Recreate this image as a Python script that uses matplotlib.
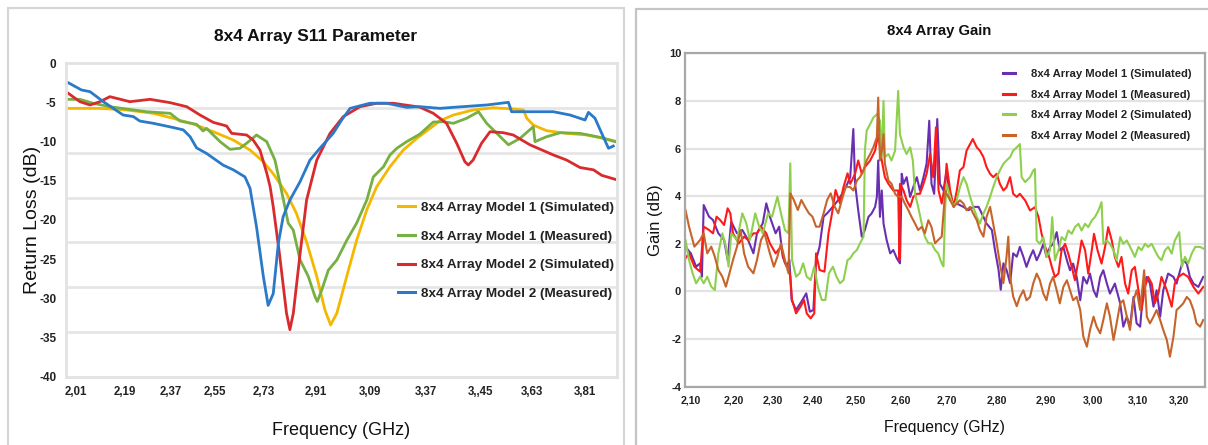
import numpy as np
import matplotlib
matplotlib.use("Agg")
import matplotlib.pyplot as plt
from matplotlib.patches import Rectangle
from matplotlib.lines import Line2D

plt.rcParams['axes.unicode_minus'] = False
NARROW = ['Liberation Sans Narrow', 'Liberation Sans', 'DejaVu Sans']
REG = ['Liberation Sans', 'DejaVu Sans']

# ---------------- S11 data (GHz, dB) ----------------
s11_m1_sim_f = [1.983, 2.095, 2.189, 2.284, 2.354, 2.425, 2.496, 2.567, 2.626, 2.673, 2.708, 2.755, 2.79,
                2.826, 2.862, 2.891, 2.911, 2.933, 2.968, 3.003, 3.039, 3.074, 3.121, 3.168, 3.216, 3.263,
                3.298, 3.345, 3.415, 3.486, 3.557, 3.593, 3.605, 3.628, 3.675, 3.746, 3.817, 3.876, 3.917]
s11_m1_sim_db = [-5.75, -5.75, -5.96, -6.38, -7.02, -7.75, -8.73, -9.8, -11.07, -12.56, -14.1, -16.6, -19.15,
                 -22.8, -27.2, -31.5, -33.4, -31.9, -27.2, -22.6, -18.7, -15.75, -13.2, -11.07, -9.58, -8.3,
                 -7.33, -6.6, -5.96, -5.67, -5.83, -5.96, -7.02, -7.88, -8.6, -8.94, -9.15, -9.58, -9.92]

s11_m1_meas_f = [1.983, 2.024, 2.071, 2.13, 2.189, 2.26, 2.343, 2.378, 2.437, 2.46, 2.472, 2.52, 2.555, 2.59,
                 2.614, 2.649, 2.685, 2.714, 2.73, 2.761, 2.779, 2.803, 2.832, 2.856, 2.864, 2.88, 2.903,
                 2.933, 2.968, 3.003, 3.039, 3.062, 3.098, 3.121, 3.145, 3.18, 3.227, 3.274, 3.31, 3.345,
                 3.392, 3.434, 3.463, 3.499, 3.54, 3.581, 3.628, 3.634, 3.675, 3.723, 3.793, 3.864, 3.917]
s11_m1_meas_db = [-4.6, -4.6, -5.1, -5.54, -5.83, -6.18, -6.38, -7.37, -7.79, -8.64, -8.3, -10.0, -10.98,
                  -10.85, -10.2, -9.15, -10.0, -12.35, -15.0, -20.4, -21.3, -25.1, -27.2, -29.8, -30.4, -28.9,
                  -26.4, -25.1, -22.6, -20.4, -17.45, -14.5, -13.2, -11.7, -10.85, -10.0, -9.03, -7.5, -7.45,
                  -7.66, -7.02, -6.18, -7.66, -8.94, -10.4, -9.58, -8.09, -10.0, -9.37, -8.86, -8.94, -9.45, -10.0]

s11_m2_sim_f = [1.983, 2.024, 2.06, 2.095, 2.13, 2.201, 2.272, 2.343, 2.402, 2.449, 2.496, 2.543, 2.561,
                2.614, 2.637, 2.661, 2.685, 2.697, 2.708, 2.73, 2.755, 2.767, 2.779, 2.803, 2.826, 2.862,
                2.909, 2.956, 3.015, 3.074, 3.133, 3.227, 3.274, 3.321, 3.357, 3.386, 3.398, 3.415, 3.445,
                3.475, 3.522, 3.557, 3.616, 3.699, 3.746, 3.793, 3.841, 3.87, 3.917]
s11_m2_sim_db = [-3.83, -4.9, -5.32, -4.9, -4.26, -4.9, -4.6, -5.02, -5.54, -6.6, -7.54, -8.0, -8.94,
                 -9.15, -9.8, -11.07, -14.0, -15.75, -18.3, -24.3, -31.9, -34.0, -31.9, -24.3, -17.45, -12.35,
                 -8.94, -6.8, -5.54, -5.1, -5.1, -5.6, -6.38, -7.66, -10.2, -12.56, -12.98, -12.35, -10.2,
                 -8.73, -8.86, -9.15, -10.4, -11.7, -12.35, -13.3, -13.6, -14.3, -14.8]

s11_m2_meas_f = [1.983, 2.03, 2.06, 2.107, 2.142, 2.177, 2.213, 2.236, 2.284, 2.354, 2.39, 2.414, 2.437,
                 2.472, 2.531, 2.567, 2.608, 2.626, 2.649, 2.673, 2.69, 2.708, 2.726, 2.743, 2.767, 2.803,
                 2.838, 2.873, 2.92, 2.95, 2.98, 3.05, 3.109, 3.18, 3.227, 3.298, 3.345, 3.463, 3.54, 3.551,
                 3.605, 3.699, 3.758, 3.811, 3.823, 3.846, 3.87, 3.894, 3.911]
s11_m2_meas_db = [-2.48, -3.41, -3.62, -4.9, -5.75, -6.6, -6.8, -7.37, -7.66, -8.2, -8.5, -9.37, -10.8,
                  -11.5, -13.0, -13.6, -14.5, -15.96, -20.9, -27.2, -30.9, -29.4, -23.0, -19.6, -17.45, -15.1,
                  -12.35, -10.85, -8.94, -7.24, -5.75, -5.1, -5.1, -5.62, -5.54, -5.75, -5.62, -5.32, -4.98,
                  -6.18, -6.18, -6.18, -6.6, -7.24, -6.26, -7.0, -8.94, -10.85, -10.56]

s11_tick_labels = ['2,01', '2,19', '2,37', '2,55', '2,73', '2,91', '3,09', '3,37', '3,,45', '3,63', '3,81']
s11_tick_at = [2.01, 2.182, 2.345, 2.502, 2.675, 2.857, 3.049, 3.248, 3.44, 3.625, 3.81]
s11_labels = ['8x4 Array Model 1 (Simulated)', '8x4 Array Model 1 (Measured)',
              '8x4 Array Model 2 (Simulated)', '8x4 Array Model 2 (Measured)']

# ---------------- Gain data (GHz, dB) ----------------
g_m1_sim = [
    (2.088, 1.88), (2.10, 1.6), (2.112, 1.04), (2.121, 1.18), (2.125, 0.62), (2.129, 3.63), (2.141, 3.14),
    (2.15, 3.0), (2.162, 2.44), (2.175, 2.16), (2.183, 1.32), (2.191, 2.93), (2.204, 2.44), (2.216, 2.58),
    (2.229, 2.16), (2.241, 1.6), (2.249, 2.44), (2.262, 2.86), (2.27, 3.7), (2.278, 3.14), (2.291, 2.44),
    (2.299, 2.72), (2.307, 1.46), (2.316, 1.04), (2.322, 1.32), (2.327, -0.36), (2.337, -0.78),
    (2.349, -0.43), (2.36, -0.08), (2.368, -0.85), (2.376, -0.78), (2.382, 1.32), (2.39, 1.88),
    (2.399, 3.14), (2.407, 3.28), (2.42, 3.56), (2.432, 3.84), (2.444, 4.19), (2.453, 4.54),
    (2.459, 4.8), (2.466, 6.82), (2.47, 4.52), (2.477, 3.41), (2.485, 2.3), (2.492, 2.58), (2.50, 3.13),
    (2.507, 3.27), (2.515, 3.55), (2.519, 3.97), (2.522, 5.5), (2.526, 3.13), (2.53, 4.24), (2.534, 2.85),
    (2.541, 2.16), (2.549, 1.6), (2.556, 1.74), (2.564, 1.39), (2.571, 1.18), (2.575, 4.94), (2.579, 4.52),
    (2.586, 4.8), (2.594, 3.97), (2.601, 4.38), (2.609, 4.8), (2.616, 4.24), (2.624, 4.8), (2.631, 5.36),
    (2.637, 7.17), (2.642, 4.52), (2.648, 4.1), (2.655, 7.24), (2.661, 4.52), (2.669, 4.24), (2.676, 5.08),
    (2.684, 3.83), (2.699, 3.69), (2.714, 3.55), (2.725, 3.41), (2.736, 3.55), (2.748, 3.55), (2.759, 3.13),
    (2.766, 2.85), (2.778, 2.58), (2.785, 1.74), (2.793, 0.91), (2.798, 0.07), (2.804, 1.18), (2.811, 0.91),
    (2.819, 0.35), (2.826, 1.6), (2.834, 1.46), (2.841, 1.87), (2.849, 1.45), (2.856, 1.03), (2.864, 1.45),
    (2.871, 1.73), (2.879, 1.31), (2.886, 1.59), (2.894, 2.0), (2.901, 1.45), (2.909, 1.87), (2.916, 2.0),
    (2.924, 2.49), (2.931, 1.73), (2.939, 1.87), (2.947, 1.31), (2.954, 0.89), (2.961, 1.17), (2.969, 0.61),
    (2.977, -0.37), (2.984, 0.61), (2.992, 0.33), (2.999, 0.75), (3.007, 0.05), (3.014, -0.23),
    (3.022, 0.61), (3.029, 0.89), (3.037, 0.33), (3.044, -0.09), (3.055, 0.33), (3.067, -0.5),
    (3.074, -1.48), (3.082, -1.06), (3.089, -1.48), (3.097, -0.23), (3.104, -1.34), (3.112, -1.48),
    (3.12, 0.33), (3.127, 0.61), (3.134, 0.33), (3.142, -0.64), (3.149, 0.05), (3.157, -1.06),
    (3.164, 0.05), (3.175, 0.75), (3.187, 0.61), (3.194, 0.33), (3.202, 0.89), (3.209, 1.31),
    (3.217, 1.17), (3.224, 0.61), (3.232, 0.33), (3.243, 0.19), (3.254, 0.61)]

g_m1_meas = [
    (2.088, 1.39), (2.096, 1.6), (2.108, 1.04), (2.121, 0.83), (2.129, 2.72), (2.141, 2.58), (2.15, 2.44),
    (2.158, 3.14), (2.166, 3.0), (2.175, 2.79), (2.183, 3.49), (2.189, 3.28), (2.195, 2.44), (2.208, 2.02),
    (2.22, 2.3), (2.229, 2.16), (2.241, 2.44), (2.249, 2.44), (2.258, 2.72), (2.27, 2.44), (2.278, 2.02),
    (2.291, 1.6), (2.303, 1.88), (2.312, 1.18), (2.32, 1.04), (2.324, 0.62), (2.328, -0.36), (2.337, -0.92),
    (2.347, -0.64), (2.355, -0.36), (2.361, -0.92), (2.37, -1.13), (2.378, -0.92), (2.382, 1.6),
    (2.39, 0.9), (2.401, 0.83), (2.41, 2.44), (2.418, 3.28), (2.426, 4.26), (2.436, 3.7), (2.444, 4.4),
    (2.453, 4.96), (2.459, 4.52), (2.47, 4.94), (2.477, 5.5), (2.485, 4.94), (2.492, 5.22), (2.504, 5.5),
    (2.515, 5.91), (2.522, 6.6), (2.53, 5.5), (2.537, 4.8), (2.545, 4.52), (2.556, 4.24), (2.567, 4.24),
    (2.57, 1.32), (2.571, 4.52), (2.579, 4.24), (2.586, 3.83), (2.594, 3.55), (2.601, 3.97), (2.609, 4.1),
    (2.616, 4.1), (2.624, 4.52), (2.631, 4.94), (2.639, 5.77), (2.646, 4.8), (2.652, 6.89), (2.658, 4.24),
    (2.665, 3.69), (2.673, 4.52), (2.676, 5.36), (2.684, 4.24), (2.692, 3.55), (2.699, 4.24), (2.706, 5.08),
    (2.714, 5.22), (2.721, 5.91), (2.729, 6.19), (2.735, 6.4), (2.744, 6.05), (2.751, 5.91), (2.759, 5.64),
    (2.766, 5.22), (2.774, 4.94), (2.781, 4.8), (2.789, 4.94), (2.796, 4.52), (2.804, 4.24), (2.811, 4.38),
    (2.819, 4.8), (2.826, 4.1), (2.834, 3.97), (2.841, 4.1), (2.853, 3.82), (2.864, 3.4), (2.875, 3.54),
    (2.883, 3.12), (2.89, 2.42), (2.898, 1.87), (2.905, 1.59), (2.913, 1.03), (2.92, 0.61), (2.928, 0.75),
    (2.935, 1.73), (2.943, 2.0), (2.95, 1.59), (2.958, 1.03), (2.965, 0.47), (2.973, 1.31), (2.98, 2.14),
    (2.988, 1.73), (2.995, 0.75), (3.003, 1.73), (3.008, 2.42), (3.016, 1.73), (3.025, 1.17), (3.033, 1.87),
    (3.04, 2.7), (3.048, 2.14), (3.055, 1.45), (3.063, 1.03), (3.07, 1.45), (3.078, 0.33), (3.085, -0.09),
    (3.093, 0.89), (3.10, 1.03), (3.108, 0.05), (3.115, -0.78), (3.123, 0.19), (3.13, 0.61), (3.138, 0.33),
    (3.145, -0.5), (3.153, -0.09), (3.16, 0.61), (3.172, 0.05), (3.183, -0.64), (3.19, 0.33), (3.198, 0.61),
    (3.209, 0.75), (3.22, 0.61), (3.232, 0.19), (3.243, -0.09), (3.254, 0.19)]

g_m2_sim = [
    (2.088, 2.16), (2.096, 1.32), (2.104, 0.76), (2.112, 0.34), (2.121, 0.62), (2.129, 0.34), (2.137, 0.62),
    (2.146, 0.2), (2.154, 0.06), (2.162, 1.6), (2.171, 2.44), (2.179, 1.88), (2.185, 1.04), (2.191, 2.44),
    (2.204, 2.16), (2.216, 3.28), (2.225, 2.86), (2.233, 2.16), (2.245, 3.28), (2.254, 2.72), (2.262, 2.44),
    (2.274, 3.28), (2.283, 3.14), (2.295, 3.98), (2.303, 3.28), (2.312, 2.58), (2.32, 2.44), (2.324, 5.38),
    (2.328, 1.32), (2.337, 0.62), (2.345, 0.76), (2.353, 1.18), (2.361, 0.62), (2.37, 0.48), (2.378, 1.04),
    (2.386, 0.2), (2.395, -0.36), (2.403, -0.36), (2.411, 0.76), (2.42, 1.04), (2.428, 0.62), (2.436, 0.34),
    (2.444, 0.48), (2.453, 1.32), (2.459, 1.39), (2.466, 1.6), (2.474, 1.74), (2.481, 2.02), (2.489, 2.3),
    (2.492, 5.91), (2.496, 6.75), (2.504, 7.03), (2.511, 7.3), (2.519, 7.44), (2.526, 7.17), (2.53, 5.64),
    (2.534, 8.0), (2.537, 5.64), (2.545, 5.77), (2.552, 5.5), (2.56, 5.91), (2.567, 8.42), (2.571, 6.6),
    (2.579, 6.05), (2.586, 5.77), (2.594, 6.05), (2.60, 5.5), (2.605, 4.1), (2.612, 3.55), (2.62, 2.85),
    (2.627, 2.3), (2.635, 2.02), (2.642, 2.02), (2.65, 1.74), (2.657, 1.6), (2.665, 1.18), (2.669, 1.05),
    (2.673, 3.55), (2.676, 4.52), (2.684, 3.97), (2.692, 3.55), (2.699, 3.83), (2.706, 4.38), (2.714, 4.8),
    (2.721, 4.52), (2.729, 3.97), (2.736, 3.55), (2.744, 3.13), (2.751, 2.85), (2.759, 3.27), (2.766, 3.55),
    (2.774, 3.97), (2.781, 4.38), (2.789, 4.8), (2.796, 5.08), (2.804, 5.36), (2.811, 5.5), (2.819, 5.64),
    (2.826, 5.91), (2.834, 6.05), (2.841, 6.19), (2.845, 4.8), (2.853, 4.59), (2.864, 4.8), (2.871, 5.07),
    (2.875, 5.14), (2.879, 2.14), (2.886, 2.0), (2.894, 2.28), (2.901, 1.45), (2.909, 1.73), (2.914, 3.12),
    (2.92, 1.31), (2.928, 1.73), (2.935, 2.28), (2.943, 2.14), (2.95, 2.56), (2.958, 2.42), (2.965, 2.7),
    (2.973, 2.84), (2.98, 2.56), (2.988, 2.84), (2.995, 2.7), (3.003, 2.98), (3.01, 3.12), (3.018, 3.4),
    (3.025, 3.75), (3.029, 2.0), (3.037, 2.14), (3.044, 2.0), (3.052, 1.73), (3.059, 1.31), (3.067, 2.28),
    (3.074, 2.0), (3.082, 2.14), (3.093, 1.73), (3.10, 1.45), (3.108, 1.87), (3.115, 1.73), (3.123, 2.0),
    (3.13, 1.87), (3.138, 2.0), (3.145, 1.73), (3.153, 1.45), (3.16, 1.31), (3.168, 1.73), (3.175, 1.87),
    (3.183, 1.59), (3.19, 2.14), (3.20, 2.49), (3.206, 1.03), (3.213, 1.45), (3.22, 1.17), (3.228, 1.59),
    (3.236, 1.87), (3.247, 1.87), (3.254, 1.8)]

g_m2_meas = [
    (2.088, 3.42), (2.096, 2.72), (2.108, 1.88), (2.121, 2.16), (2.129, 2.44), (2.137, 1.6), (2.146, 1.88),
    (2.154, 1.46), (2.162, 0.9), (2.171, 0.62), (2.179, 0.2), (2.187, 0.76), (2.195, 1.32), (2.204, 1.88),
    (2.212, 2.58), (2.22, 1.6), (2.229, 1.04), (2.241, 0.76), (2.249, 1.32), (2.258, 2.16), (2.266, 2.44),
    (2.278, 1.6), (2.287, 1.04), (2.295, 1.46), (2.303, 2.02), (2.312, 1.32), (2.32, 0.76), (2.324, 4.12),
    (2.332, 3.84), (2.341, 3.42), (2.349, 3.84), (2.357, 3.56), (2.366, 3.28), (2.374, 3.14), (2.382, 2.72),
    (2.39, 2.72), (2.399, 3.28), (2.407, 3.84), (2.415, 4.12), (2.424, 3.56), (2.432, 3.28), (2.44, 3.84),
    (2.449, 4.4), (2.459, 4.38), (2.466, 4.24), (2.474, 4.66), (2.481, 4.8), (2.489, 5.08), (2.496, 5.5),
    (2.504, 5.77), (2.511, 6.05), (2.519, 6.47), (2.522, 8.14), (2.526, 5.5), (2.53, 5.91), (2.534, 6.6),
    (2.537, 5.36), (2.545, 4.66), (2.552, 4.52), (2.56, 4.1), (2.567, 3.97), (2.575, 3.97), (2.582, 3.69),
    (2.59, 3.41), (2.597, 3.13), (2.605, 2.85), (2.612, 2.58), (2.62, 2.71), (2.627, 2.44), (2.635, 2.99),
    (2.642, 2.71), (2.65, 2.02), (2.657, 2.16), (2.665, 2.3), (2.673, 4.24), (2.676, 4.1), (2.684, 3.83),
    (2.692, 3.55), (2.699, 3.69), (2.706, 3.83), (2.714, 3.69), (2.721, 3.41), (2.729, 3.55), (2.736, 3.27),
    (2.744, 2.99), (2.751, 2.58), (2.759, 2.3), (2.766, 3.13), (2.774, 3.55), (2.781, 2.85), (2.789, 2.02),
    (2.796, 1.18), (2.804, 0.35), (2.811, 1.46), (2.815, 2.3), (2.819, 0.63), (2.826, -0.21), (2.834, -0.62),
    (2.841, -0.23), (2.849, 0.05), (2.856, -0.37), (2.864, -0.23), (2.871, 0.33), (2.879, 0.75),
    (2.886, 0.47), (2.894, -0.09), (2.901, -0.37), (2.909, 0.33), (2.916, 0.61), (2.924, 0.05),
    (2.931, -0.5), (2.939, 0.19), (2.947, 0.47), (2.954, 0.05), (2.961, -0.37), (2.969, -0.23),
    (2.977, -0.78), (2.984, -1.9), (2.992, -2.32), (2.999, -1.62), (3.007, -1.06), (3.014, -1.48),
    (3.022, -1.76), (3.029, -1.2), (3.037, -0.5), (3.044, -1.06), (3.052, -2.04), (3.059, -1.34),
    (3.067, -0.5), (3.074, -0.37), (3.082, -1.06), (3.089, -1.62), (3.097, -0.37), (3.104, 0.05),
    (3.112, -0.78), (3.121, 0.89), (3.127, -1.06), (3.134, -1.34), (3.142, -1.06), (3.149, -0.78),
    (3.157, -1.2), (3.164, -1.62), (3.172, -2.04), (3.179, -2.74), (3.187, -1.9), (3.194, -0.78),
    (3.202, -0.64), (3.209, -0.5), (3.217, -0.23), (3.224, -0.37), (3.232, -0.78), (3.239, -1.34),
    (3.247, -1.48), (3.254, -1.2)]

gain_tick_labels = ['2,10', '2,20', '2,30', '2,40', '2,50', '2,60', '2,70', '2,80', '2,90', '3,00', '3,10', '3,20']
gain_tick_at = [2.10, 2.197, 2.285, 2.374, 2.471, 2.573, 2.677, 2.789, 2.90, 3.005, 3.107, 3.20]
gain_labels = ['8x4 Array Model 1 (Simulated)', '8x4 Array Model 1 (Measured)',
               '8x4 Array Model 2 (Simulated)', '8x4 Array Model 2 (Measured)']

# ---------------- figure ----------------
W, H = 1208, 445
fig = plt.figure(figsize=(W / 100, H / 100), dpi=100)
fig.patch.set_facecolor('white')

def fr(x0, y0, x1, y1):
    return [x0 / W, 1 - y1 / H, (x1 - x0) / W, (y1 - y0) / H]

# panel frames
fig.patches.append(Rectangle((8 / W, -0.05), (624 - 8) / W, 1.05 - 8 / H, transform=fig.transFigure,
                             fill=False, edgecolor='#d6d6d6', linewidth=1.6))
fig.patches.append(Rectangle((636 / W, -0.05), (1215 - 636) / W, 1.05 - 9 / H, transform=fig.transFigure,
                             fill=False, edgecolor='#c4c4c4', linewidth=1.6))

# ---- left: S11 ----
ax1 = fig.add_axes(fr(66.3, 63.3, 616.7, 376.7))
for s in ax1.spines.values():
    s.set_color('#e2e2e2')
    s.set_linewidth(2)
for lvl in np.linspace(0, -40, 8)[1:-1]:
    ax1.axhline(lvl, color='#e6e6e6', lw=2, zorder=0)
s11_colors = ['#F5B800', '#76B043', '#D92A2E', '#2A7AC9']
s11_series = [(s11_m1_sim_f, s11_m1_sim_db), (s11_m1_meas_f, s11_m1_meas_db),
              (s11_m2_sim_f, s11_m2_sim_db), (s11_m2_meas_f, s11_m2_meas_db)]
for (fx, dbv), c in zip(s11_series, s11_colors):
    ax1.plot(fx, dbv, color=c, lw=2.0, solid_joinstyle='round')
ax1.set_xlim(1.976, 3.923)
ax1.set_ylim(-40, 0)
ax1.set_yticks(np.arange(-40, 1, 5))
ax1.set_yticklabels([str(v) for v in range(-40, 1, 5)])
ax1.set_xticks(s11_tick_at)
ax1.set_xticklabels(s11_tick_labels)
ax1.tick_params(axis='y', length=0, labelsize=8.5, pad=7)
ax1.tick_params(axis='x', length=0, labelsize=8.3, pad=7)
for t in ax1.get_xticklabels() + ax1.get_yticklabels():
    t.set_fontfamily(NARROW)
    t.set_fontweight('bold')
    t.set_color('#222222')
ax1.set_ylabel('Return Loss (dB)', fontsize=14, family=REG, color='#111111', labelpad=-1)
ax1.set_xlabel('Frequency (GHz)', fontsize=13, family=NARROW, color='#111111', labelpad=17)
fig.text(316 / W, 1 - 36 / H, '8x4 Array S11 Parameter', ha='center', va='center', fontsize=12.5,
         family=NARROW, weight='bold', color='#111111')
h1 = [Line2D([], [], color=c, lw=2.2) for c in s11_colors]
ax1.legend(h1, s11_labels, loc='upper left', bbox_to_anchor=(0.59, 0.58), frameon=False,
           prop={'family': NARROW, 'weight': 'bold', 'size': 9.7}, handlelength=1.25, handletextpad=0.5,
           labelspacing=1.2, borderpad=0, labelcolor='#222222')

# ---- right: Gain ----
ax2 = fig.add_axes(fr(684.6, 53.3, 1205, 386.7))
for s in ax2.spines.values():
    s.set_color('#a8a8a8')
    s.set_linewidth(1.6)
ax2.set_axisbelow(True)
ax2.yaxis.grid(True, color='#e3e3e3', lw=1.6)
g_colors = ['#6A2FB0', '#FF1A1A', '#8ED04E', '#C6642A']
for ser, c in zip([g_m1_sim, g_m1_meas, g_m2_sim, g_m2_meas], g_colors):
    arr = np.array(ser)
    ax2.plot(arr[:, 0], arr[:, 1], color=c, lw=1.5)
ax2.set_xlim(2.086, 3.258)
ax2.set_ylim(-4, 10)
ax2.set_yticks(np.arange(-4, 11, 2))
ax2.set_xticks(gain_tick_at)
ax2.set_xticklabels(gain_tick_labels)
ax2.tick_params(axis='y', length=0, labelsize=8, pad=2.5)
ax2.tick_params(axis='x', length=0, labelsize=7.6, pad=6)
for t in ax2.get_xticklabels() + ax2.get_yticklabels():
    t.set_fontfamily(NARROW)
    t.set_fontweight('bold')
    t.set_color('#222222')
ax2.set_ylabel('Gain (dB)', fontsize=12, family=REG, color='#111111', labelpad=4)
ax2.set_xlabel('Frequency (GHz)', fontsize=11.3, family=NARROW, color='#111111', labelpad=11)
fig.text(939 / W, 1 - 31 / H, '8x4 Array Gain', ha='center', va='center', fontsize=10.7,
         family=NARROW, weight='bold', color='#111111')
h2 = [Line2D([], [], color=c, lw=2.2) for c in g_colors]
ax2.legend(h2, gain_labels, loc='upper right', bbox_to_anchor=(0.985, 0.97), frameon=False,
           prop={'family': NARROW, 'weight': 'bold', 'size': 8.1}, handlelength=1.1, handletextpad=1.4,
           labelspacing=0.95, borderpad=0, labelcolor='#222222')

fig.savefig('out.png', dpi=100, facecolor='white')
